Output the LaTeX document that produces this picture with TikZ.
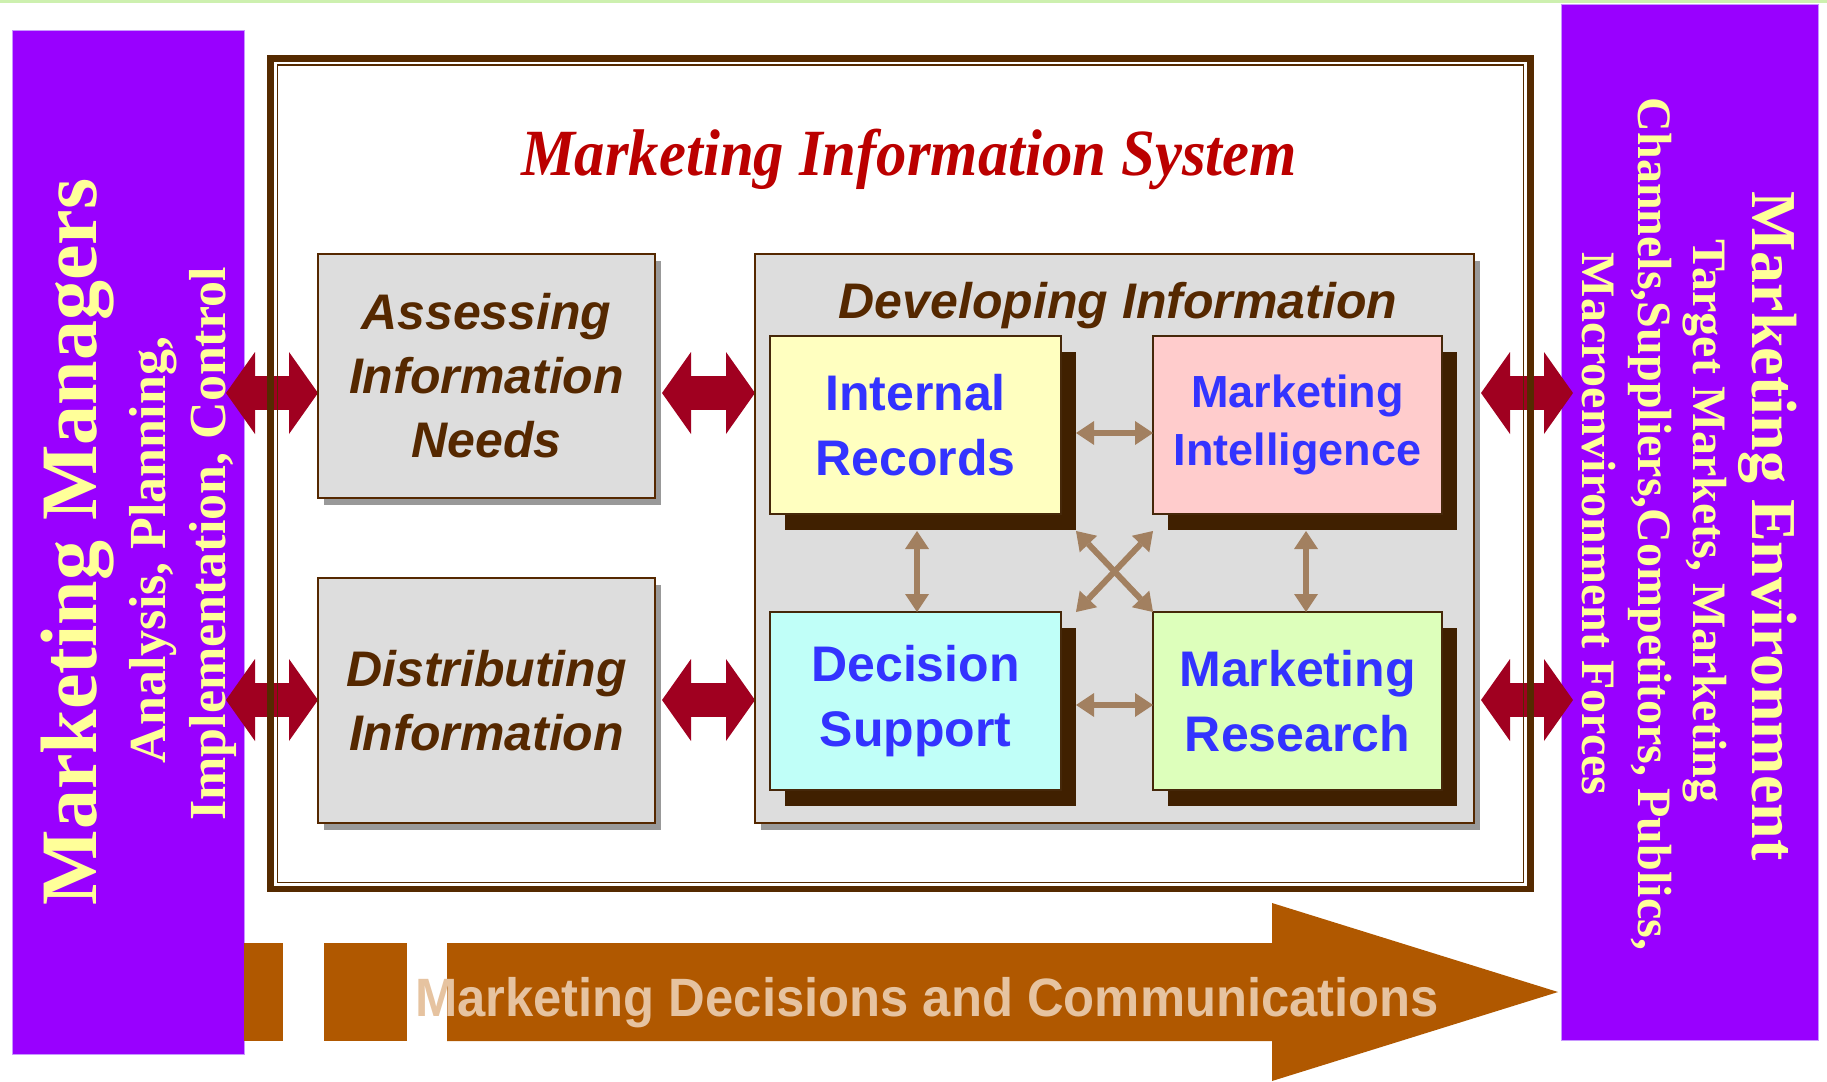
\documentclass[tikz,border=0pt]{standalone}
\usepackage{fontspec}
\setmainfont{Liberation Serif}
\newfontfamily\arialf{Liberation Sans}
\usetikzlibrary{arrows.meta,shadows}

\definecolor{mpurple}{RGB}{153,0,255}
\definecolor{medge}{RGB}{200,150,255}
\definecolor{myellow}{RGB}{255,255,153}
\definecolor{topgreen}{RGB}{205,240,175}
\definecolor{framebrown}{RGB}{85,42,0}
\definecolor{titlered}{RGB}{187,0,0}
\definecolor{boxbrown}{RGB}{85,40,0}
\definecolor{boxgray}{RGB}{221,221,221}
\definecolor{shgray}{RGB}{153,153,153}
\definecolor{innersh}{RGB}{64,32,0}
\definecolor{innerbrd}{RGB}{70,40,10}
\definecolor{irfill}{RGB}{255,255,192}
\definecolor{mifill}{RGB}{255,204,204}
\definecolor{dsfill}{RGB}{192,255,248}
\definecolor{mrfill}{RGB}{221,255,187}
\definecolor{mblue}{RGB}{51,51,255}
\definecolor{bigred}{RGB}{160,0,32}
\definecolor{smalltan}{RGB}{162,128,96}
\definecolor{orangearr}{RGB}{176,88,0}
\definecolor{orangetext}{RGB}{230,195,160}

\begin{document}
\begin{tikzpicture}[x=1pt,y=-1pt,
  purplebox/.style={fill=mpurple, draw=medge, line width=1pt, inner sep=0pt, outer sep=0pt},
  ptext/.style={text=myellow, inner sep=0pt, anchor=base},
  graybox/.style={fill=boxgray, draw=boxbrown, line width=2pt, inner sep=0pt, outer sep=0pt,
    drop shadow={shadow xshift=6pt, shadow yshift=-7pt, fill=shgray, opacity=1}},
  boxtext/.style={font=\arialf\fontsize{50}{64}\selectfont\bfseries\itshape, text=boxbrown, align=center},
  infobox/.style={draw=innerbrd, line width=1.5pt, inner sep=0pt, outer sep=0pt,
    minimum width=291pt, minimum height=178pt, text=mblue, align=center,
    font=\arialf\fontsize{50}{65}\selectfont\bfseries,
    drop shadow={shadow xshift=15pt, shadow yshift=-16pt, fill=innersh, opacity=1}},
  bigarr/.style={draw=bigred, line width=34pt,
    {Triangle[length=29pt,width=82pt,line width=0pt]}-{Triangle[length=29pt,width=82pt,line width=0pt]}},
  smallarr/.style={draw=smalltan, line width=6pt,
    {Triangle[length=18pt,width=24pt,line width=0pt]}-{Triangle[length=18pt,width=24pt,line width=0pt]}}
]
\useasboundingbox (0,0) rectangle (1827,1081);
\fill[white] (0,0) rectangle (1827,1081);
\fill[topgreen] (0,0) rectangle (1827,3.5);

% side panels
\node[purplebox, minimum width=232pt, minimum height=1023pt] (mgr) at (128,542.5) {};
\node[purplebox, minimum width=257pt, minimum height=1035pt] (env) at (1689.5,522.5) {};

\node[ptext, rotate=90, font=\fontsize{80}{80}\selectfont\bfseries] (mgr1) at (96,542) {Marketing Managers};
\node[ptext, rotate=90, font=\fontsize{52}{52}\selectfont\bfseries] (mgr2) at (165,550) {Analysis, Planning,};
\node[ptext, rotate=90, font=\fontsize{52}{52}\selectfont\bfseries] (mgr3) at (225,544) {Implementation, Control};

\node[ptext, rotate=-90, font=\fontsize{64}{64}\selectfont\bfseries] (env1) at (1752,526) {Marketing Environment};
\node[ptext, rotate=-90, font=\fontsize{48}{48}\selectfont\bfseries] (env2) at (1693,521) {Target Markets, Marketing};
\node[ptext, rotate=-90, font=\fontsize{48}{48}\selectfont\bfseries] (env3) at (1638,524) {Channels,Suppliers,Competitors, Publics,};
\node[ptext, rotate=-90, font=\fontsize{48}{48}\selectfont\bfseries] (env4) at (1582,524) {Macroenvironment Forces};

% bottom arrow
\fill[orangearr] (447,943) -- (1272,943) -- (1272,903) -- (1558,992) -- (1272,1081) -- (1272,1041) -- (447,1041) -- cycle;
\fill[orangearr] (244,943) rectangle (283,1041);
\fill[orangearr] (324,943) rectangle (407,1041);
\node[anchor=base west, inner sep=0pt, xscale=0.94, text=orangetext,
  font=\arialf\fontsize{54}{54}\selectfont\bfseries] (dec) at (415,1016) {Marketing Decisions and Communications};

% boxes
\node[graybox, minimum width=337pt, minimum height=244pt] (assess) at (486.5,376) {};
\node[graybox, minimum width=337pt, minimum height=245pt] (dist) at (486.5,700.5) {};
\node[graybox, minimum width=719pt, minimum height=569pt] (dev) at (1114.5,538.5) {};

% connector end points
\coordinate (l1) at (226,393);
\coordinate (l2) at (226,700);
\coordinate (m1) at (662,393);
\coordinate (m2) at (662,700);
\coordinate (r1) at (1573,393);
\coordinate (r2) at (1573,700);

\draw[bigarr] (l1) -- (assess.west |- l1);
\draw[bigarr] (l2) -- (dist.west |- l2);
\draw[bigarr] (m1) -- (dev.west |- m1);
\draw[bigarr] (m2) -- (dev.west |- m2);
\draw[bigarr] ([xshift=7pt]dev.east |- r1) -- (r1);
\draw[bigarr] ([xshift=7pt]dev.east |- r2) -- (r2);

% frame
\node[draw=framebrown, line width=6.5pt, minimum width=1259.8pt, minimum height=830.5pt, inner sep=0pt, outer sep=0pt] (mis) at (900.4,473.75) {};
\node[draw=framebrown, line width=1.5pt, minimum width=1246.2pt, minimum height=817.6pt, inner sep=0pt, outer sep=0pt] (misin) at (900.6,473.8) {};

% redraw boxes over frame? (boxes are inside the frame; no overlap)
\node[graybox, minimum width=337pt, minimum height=244pt, boxtext] (assess) at (486.5,376) {Assessing\\Information\\Needs};
\node[graybox, minimum width=337pt, minimum height=245pt, boxtext] (dist) at (486.5,700.5) {Distributing\\Information};
\node[graybox, minimum width=719pt, minimum height=569pt] (dev) at (1114.5,538.5) {};

\node[anchor=base, inner sep=0pt, xscale=0.92, text=titlered,
  font=\fontsize{66}{66}\selectfont\bfseries\itshape] (title) at (909,175) {Marketing Information System};
\node[anchor=base, inner sep=0pt, boxtext] (devt) at (1118,318.5) {Developing Information};

\node[infobox, fill=irfill] (ir) at (915.5,425) {Internal\\Records};
\node[infobox, fill=mifill, minimum width=289pt, font=\arialf\fontsize{45}{58}\selectfont\bfseries] (mi) at (1297.5,425) {Marketing\\Intelligence};
\node[infobox, fill=dsfill] (ds) at (915.5,701) {Decision\\Support};
\node[infobox, fill=mrfill, minimum width=289pt] (mr) at (1297.5,701) {Marketing\\Research};

% small connectors
\draw[smallarr] ([xshift=15pt,yshift=-8pt]ir.east) -- ([yshift=-8pt]mi.west);
\draw[smallarr] ([xshift=15pt,yshift=-4pt]ds.east) -- ([yshift=-4pt]mr.west);
\draw[smallarr] ([xshift=1.5pt,yshift=-17pt]ir.south) -- ([xshift=1.5pt]ds.north);
\draw[smallarr] ([xshift=8.5pt,yshift=-17pt]mi.south) -- ([xshift=8.5pt]mr.north);
\draw[smallarr] ([xshift=15pt,yshift=-17pt]ir.south east) -- (mr.north west);
\draw[smallarr] ([yshift=-17pt]mi.south west) -- ([xshift=15pt]ds.north east);
\end{tikzpicture}
\end{document}
